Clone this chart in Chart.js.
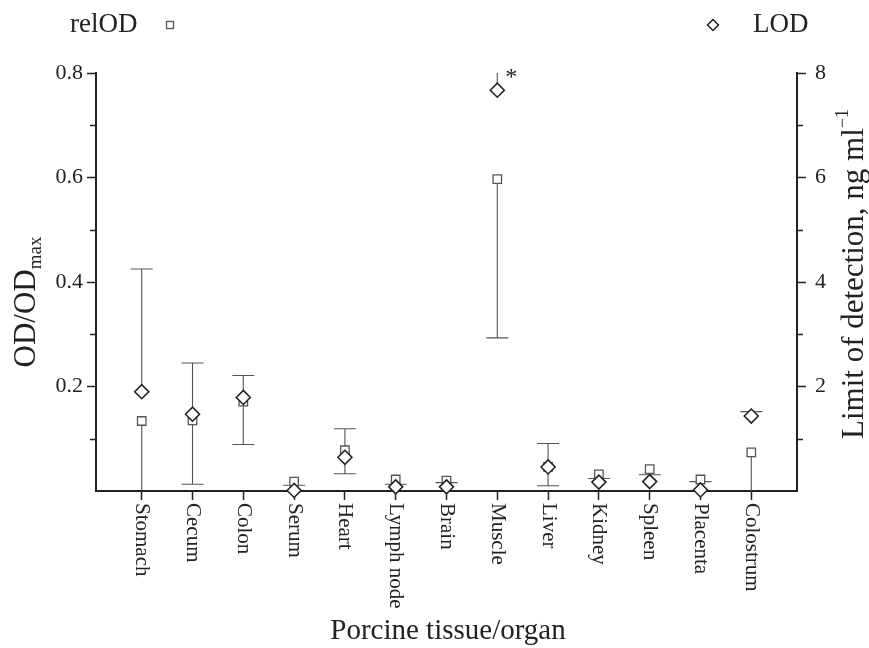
<!DOCTYPE html>
<html>
<head>
<meta charset="utf-8">
<script src="https://cdn.jsdelivr.net/npm/chart.js@4.4.1/dist/chart.umd.min.js"></script>
<style>
  html, body { margin: 0; padding: 0; background: #fff; }
</style>
</head>
<body>
<canvas id="chart" width="869" height="648"></canvas>
<script>
const tissues = ['Stomach', 'Cecum', 'Colon', 'Serum', 'Heart', 'Lymph node', 'Brain',
                 'Muscle', 'Liver', 'Kidney', 'Spleen', 'Placenta', 'Colostrum'];
// relative OD (left axis) with lower error ends
const relOD    = [0.134, 0.135, 0.171, 0.018, 0.078, 0.022, 0.020, 0.597, 0.046, 0.032, 0.042, 0.022, 0.074];
const relODLow = [-0.16, 0.013, 0.089, 0.011, 0.033, 0.013, 0.016, 0.293, 0.010, 0.024, 0.031, 0.018, -0.05];
// limit of detection, ng/ml (right axis) with upper error ends
const lod      = [1.90, 1.47, 1.79, 0.01, 0.645, 0.08, 0.08, 7.67, 0.46, 0.17, 0.18, 0.02, 1.435];
const lodHigh  = [4.25, 2.45, 2.21, null, 1.19, null, null, 9.0, 0.91, null, null, null, 1.52];
const leftTicks  = [0.2, 0.4, 0.6, 0.8];
const rightTicks = [2, 4, 6, 8];

const FONT = 'Liberation Serif';
const INK = '#222';
const isIn = (arr, v) => arr.some(t => Math.abs(t - v) < 1e-6);

// error bars, minor ticks, rotated labels, titles and legend
const extras = {
  id: 'extras',
  beforeDatasetsDraw(chart) {
    const { ctx, chartArea: a, scales } = chart;
    const xs = scales.x, yl = scales.y, yr = scales.y2;
    ctx.save();
    ctx.beginPath();
    ctx.rect(a.left, a.top, a.right - a.left, a.bottom - a.top);
    ctx.clip();
    ctx.strokeStyle = '#555';
    ctx.lineWidth = 1.1;
    tissues.forEach((t, i) => {
      const x = xs.getPixelForValue(i);
      if (relODLow[i] !== null) {
        const y0 = yl.getPixelForValue(relOD[i]), y1 = yl.getPixelForValue(relODLow[i]);
        ctx.beginPath();
        ctx.moveTo(x, y0); ctx.lineTo(x, y1);
        ctx.moveTo(x - 11, y1); ctx.lineTo(x + 11, y1);
        ctx.stroke();
      }
      if (lodHigh[i] !== null) {
        const y0 = yr.getPixelForValue(lod[i]), y1 = yr.getPixelForValue(lodHigh[i]);
        ctx.beginPath();
        ctx.moveTo(x, y0); ctx.lineTo(x, y1);
        ctx.moveTo(x - 11, y1); ctx.lineTo(x + 11, y1);
        ctx.stroke();
      }
    });
    ctx.restore();
  },
  afterDraw(chart) {
    const { ctx, chartArea: a, scales } = chart;
    const xs = scales.x, yl = scales.y, yr = scales.y2;
    ctx.save();
    // minor ticks
    ctx.strokeStyle = INK;
    ctx.lineWidth = 1.5;
    [0.1, 0.3, 0.5, 0.7].forEach(v => {
      const y = Math.round(yl.getPixelForValue(v)) + 0.5;
      ctx.beginPath(); ctx.moveTo(a.left - 6, y); ctx.lineTo(a.left, y); ctx.stroke();
    });
    [1, 3, 5, 7].forEach(v => {
      const y = Math.round(yr.getPixelForValue(v)) + 0.5;
      ctx.beginPath(); ctx.moveTo(a.right, y); ctx.lineTo(a.right + 6, y); ctx.stroke();
    });

    ctx.fillStyle = INK;
    // category labels, rotated clockwise
    ctx.font = `21px "${FONT}"`;
    ctx.textAlign = 'left';
    ctx.textBaseline = 'middle';
    tissues.forEach((t, i) => {
      ctx.save();
      ctx.translate(xs.getPixelForValue(i), a.bottom + 12);
      ctx.rotate(Math.PI / 2);
      ctx.fillText(t, 0, 0);
      ctx.restore();
    });

    // x title
    ctx.font = `29px "${FONT}"`;
    ctx.textAlign = 'center';
    ctx.fillText('Porcine tissue/organ', 448, 631);

    // left title OD/OD_max
    ctx.save();
    ctx.translate(27, 302);
    ctx.rotate(-Math.PI / 2);
    ctx.font = `31px "${FONT}"`;
    const w1 = ctx.measureText('OD/OD').width;
    ctx.font = `19px "${FONT}"`;
    const w2 = ctx.measureText('max').width;
    let sx = -(w1 + w2) / 2;
    ctx.textAlign = 'left';
    ctx.font = `31px "${FONT}"`;
    ctx.fillText('OD/OD', sx, 0);
    ctx.font = `19px "${FONT}"`;
    ctx.fillText('max', sx + w1, 9);
    ctx.restore();

    // right title
    ctx.save();
    ctx.translate(855, 274);
    ctx.rotate(-Math.PI / 2);
    ctx.font = `31px "${FONT}"`;
    const r1 = ctx.measureText('Limit of detection, ng ml').width;
    ctx.font = `18px "${FONT}"`;
    const r2 = ctx.measureText('\u22121').width;
    sx = -(r1 + r2) / 2;
    ctx.textAlign = 'left';
    ctx.font = `31px "${FONT}"`;
    ctx.fillText('Limit of detection, ng ml', sx, 0);
    ctx.font = `18px "${FONT}"`;
    ctx.fillText('\u22121', sx + r1, -12);
    ctx.restore();

    // legend
    ctx.font = `27px "${FONT}"`;
    ctx.textAlign = 'left';
    ctx.fillText('relOD', 70, 25);
    ctx.fillText('LOD', 753, 25);
    ctx.strokeStyle = '#555';
    ctx.lineWidth = 1.3;
    ctx.strokeRect(166.5, 21.5, 7, 7);
    ctx.strokeStyle = INK;
    ctx.lineWidth = 1.5;
    ctx.beginPath();
    ctx.moveTo(713, 19.5); ctx.lineTo(718.5, 25); ctx.lineTo(713, 30.5); ctx.lineTo(707.5, 25); ctx.closePath();
    ctx.stroke();

    // significance mark at Muscle
    ctx.font = `24px "${FONT}"`;
    ctx.textAlign = 'center';
    ctx.fillText('*', xs.getPixelForValue(7) + 14, a.top + 5);
    ctx.restore();
  }
};

const ctx = document.getElementById('chart').getContext('2d');
new Chart(ctx, {
  type: 'scatter',
  data: {
    datasets: [
      {
        label: 'LOD',
        data: lod.map((v, i) => ({ x: i, y: v })),
        yAxisID: 'y2',
        pointStyle: 'rectRot',
        pointRadius: 7,
        backgroundColor: '#fff',
        borderColor: INK,
        borderWidth: 1.6,
        clip: false,
        order: 1
      },
      {
        label: 'relOD',
        data: relOD.map((v, i) => ({ x: i, y: v })),
        yAxisID: 'y',
        pointStyle: 'rect',
        pointRadius: 6,
        backgroundColor: '#fff',
        borderColor: '#555',
        borderWidth: 1.3,
        clip: false,
        order: 2
      }
    ]
  },
  options: {
    responsive: false,
    animation: false,
    layout: { padding: { top: 73, left: 0, right: 0, bottom: 0 } },
    plugins: { legend: { display: false }, tooltip: { enabled: false } },
    scales: {
      x: {
        type: 'linear',
        min: -0.9,
        max: 12.9,
        afterBuildTicks: s => { s.ticks = tissues.map((t, i) => ({ value: i })); },
        afterFit: s => { s.height = 157; },
        ticks: { callback: () => '' },
        grid: { drawOnChartArea: false, tickLength: 9, tickColor: INK, tickWidth: 1.5 },
        border: { color: INK, width: 2 }
      },
      y: {
        position: 'left',
        min: 0,
        max: 0.8,
        afterBuildTicks: s => { s.ticks = [0, 1, 2, 3, 4, 5, 6, 7, 8].map(k => ({ value: k / 10 })); },
        afterFit: s => { s.width = 96; },
        ticks: {
          callback: v => (v > 0 && isIn(leftTicks, v)) ? v.toFixed(1) : '',
          font: { family: FONT, size: 22 },
          color: INK,
          padding: 4
        },
        grid: {
          drawOnChartArea: false,
          tickLength: 9,
          tickWidth: 1.5,
          tickColor: c => isIn(leftTicks, c.tick.value) ? INK : 'rgba(0,0,0,0)'
        },
        border: { color: INK, width: 2 }
      },
      y2: {
        position: 'right',
        min: 0,
        max: 8,
        afterBuildTicks: s => { s.ticks = [0, 1, 2, 3, 4, 5, 6, 7, 8].map(k => ({ value: k })); },
        afterFit: s => { s.width = 72; },
        ticks: {
          callback: v => isIn(rightTicks, v) ? String(v) : '',
          font: { family: FONT, size: 22 },
          color: INK,
          padding: 9
        },
        grid: {
          drawOnChartArea: false,
          tickLength: 9,
          tickWidth: 1.5,
          tickColor: c => isIn(rightTicks, c.tick.value) ? INK : 'rgba(0,0,0,0)'
        },
        border: { color: INK, width: 2 }
      }
    }
  },
  plugins: [extras]
});
</script>
</body>
</html>
